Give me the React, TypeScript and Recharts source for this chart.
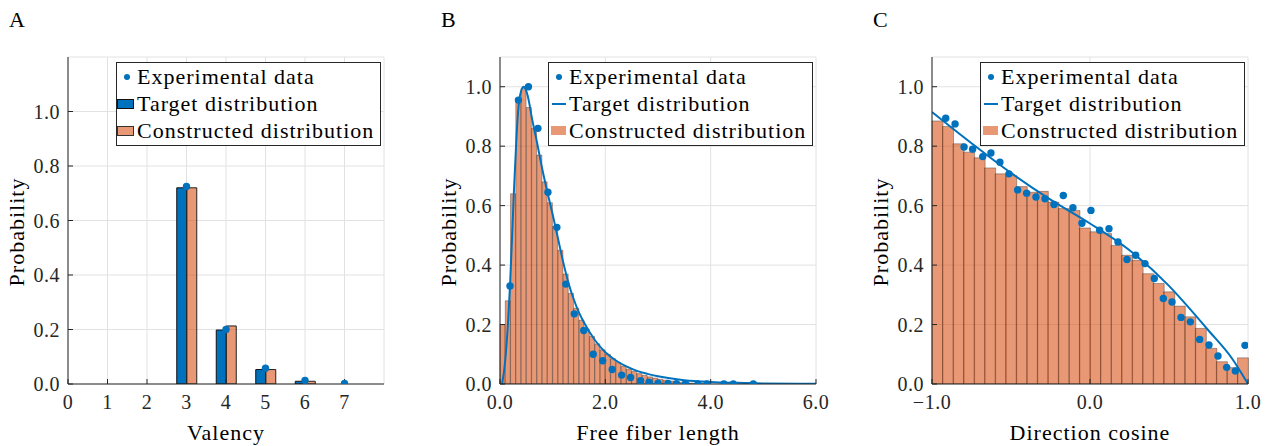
import {
  ComposedChart, Bar, Line, Scatter, XAxis, YAxis, CartesianGrid, Legend,
} from 'recharts'

const SERIF = '"Liberation Serif", "DejaVu Serif", serif'
const BLUE = '#0072BD'
const ORANGE = '#D95319'
const ORANGE_LIGHT = '#E89875'
const INK = '#262626'
const GRID = '#e2e2e2'

// A: valency
const valency = [1, 2, 3, 4, 5, 6, 7]
const valencyTarget = [0, 0, 0.72, 0.198, 0.053, 0.01, 0]
const valencyConstructed = [0, 0, 0.72, 0.213, 0.053, 0.01, 0]
const valencyExpX = [3, 4, 5, 6, 7]
const valencyExpY = [0.725, 0.2, 0.058, 0.013, 0.002]
const valencyTicks = [0, 1, 2, 3, 4, 5, 6, 7]

// B: free fiber length (histogram bins of 0.1)
const lengthBins = [
  0.05, 0.15, 0.25, 0.35, 0.45, 0.55, 0.65, 0.75, 0.85, 0.95,
  1.05, 1.15, 1.25, 1.35, 1.45, 1.55, 1.65, 1.75, 1.85, 1.95,
  2.05, 2.15, 2.25, 2.35, 2.45, 2.55, 2.65, 2.75, 2.85, 2.95,
  3.05, 3.15, 3.25, 3.35, 3.45, 3.55, 3.65, 3.75, 3.85, 3.95,
  4.05, 4.15, 4.25, 4.35, 4.45, 4.55, 4.65, 4.75, 4.85, 4.95,
  5.05, 5.15, 5.25, 5.35, 5.45, 5.55, 5.65, 5.75, 5.85, 5.95,
]
const lengthHist = [
  0.2, 0.28, 0.64, 0.955, 0.995, 0.93, 0.86, 0.77, 0.68, 0.61,
  0.53, 0.45, 0.37, 0.305, 0.255, 0.215, 0.185, 0.16, 0.135, 0.115,
  0.1, 0.085, 0.072, 0.06, 0.05, 0.042, 0.035, 0.029, 0.024, 0.02,
  0.016, 0.013, 0.01, 0.008, 0.006, 0.004, 0.003, 0.002, 0.001, 0,
  0, 0, 0, 0, 0, 0, 0, 0, 0, 0,
  0, 0, 0, 0, 0, 0, 0, 0, 0, 0,
]
const lengthLineX = [
  0.04, 0.1, 0.15, 0.19, 0.23, 0.27, 0.31, 0.35, 0.4, 0.45, 0.5, 0.55, 0.6,
  0.7, 0.8, 0.9, 1.0, 1.1, 1.2, 1.3, 1.4, 1.5, 1.6, 1.8, 2.0, 2.2, 2.4,
  2.6, 2.8, 3.0, 3.5, 4.0, 4.5, 5.0, 6.0,
]
const lengthLineY = [
  0, 0.08, 0.2, 0.33, 0.5, 0.67, 0.82, 0.93, 0.985, 1.0, 0.985, 0.95, 0.9,
  0.815, 0.725, 0.645, 0.57, 0.49, 0.41, 0.34, 0.285, 0.24, 0.205, 0.148, 0.107, 0.079, 0.059,
  0.044, 0.034, 0.026, 0.013, 0.007, 0.004, 0.002, 0.0005,
]
const lengthExpX = [
  0.19, 0.35, 0.54, 0.72, 0.91, 1.08, 1.25, 1.41, 1.59, 1.77, 1.95, 2.13, 2.31,
  2.48, 2.67, 2.83, 3.0, 3.19, 3.35, 3.52, 3.76, 3.93, 4.25, 4.43, 4.81,
]
const lengthExpY = [
  0.33, 0.955, 1.0, 0.86, 0.645, 0.527, 0.336, 0.236, 0.18, 0.1, 0.078, 0.049, 0.03,
  0.022, 0.011, 0.006, 0.003, 0.002, 0.001, 0.001, 0, 0, 0, 0, 0,
]
const lengthTicks = [0, 2, 4, 6]

// C: direction cosine (30 bins)
const cosBins = [
  -0.967, -0.9, -0.833, -0.767, -0.7, -0.633, -0.567, -0.5, -0.433, -0.367,
  -0.3, -0.233, -0.167, -0.1, -0.033, 0.033, 0.1, 0.167, 0.233, 0.3,
  0.367, 0.433, 0.5, 0.567, 0.633, 0.7, 0.767, 0.833, 0.9, 0.967,
]
const cosHist = [
  0.885, 0.866, 0.808, 0.78, 0.761, 0.727, 0.707, 0.701, 0.664, 0.645,
  0.648, 0.612, 0.59, 0.584, 0.525, 0.512, 0.506, 0.466, 0.433, 0.416,
  0.371, 0.338, 0.31, 0.262, 0.226, 0.187, 0.12, 0.075, 0.055, 0.088,
]
const cosLineX = [-1, -0.75, -0.5, -0.25, 0, 0.25, 0.5, 0.6, 0.75, 0.9, 1.0]
const cosLineY = [0.915, 0.81, 0.71, 0.62, 0.54, 0.45, 0.33, 0.272, 0.18, 0.085, 0]
const cosExpX = [
  -0.913, -0.854, -0.797, -0.743, -0.679, -0.627, -0.57, -0.513, -0.458, -0.401,
  -0.342, -0.285, -0.228, -0.169, -0.108, -0.051, 0.006, 0.061, 0.12, 0.177,
  0.234, 0.289, 0.348, 0.407, 0.464, 0.519, 0.576, 0.635, 0.694, 0.753,
  0.81, 0.865, 0.92, 0.981,
]
const cosExpY = [
  0.894, 0.875, 0.797, 0.79, 0.765, 0.777, 0.746, 0.707, 0.653, 0.642,
  0.629, 0.623, 0.604, 0.634, 0.593, 0.541, 0.584, 0.517, 0.522, 0.478,
  0.419, 0.433, 0.405, 0.355, 0.288, 0.276, 0.224, 0.209, 0.15, 0.131,
  0.094, 0.056, 0.044, 0.13,
]
const cosTicks = [-1, 0, 1]

const probTicks = [0, 0.2, 0.4, 0.6, 0.8, 1.0]
const legendNames = ['Experimental data', 'Target distribution', 'Constructed distribution']

// rows for the charts
const valencyRows = valency.map((v, i) => ({ v, t: valencyTarget[i], c: valencyConstructed[i] }))
const valencyExp = valencyExpX.map((v, i) => ({ v, y: valencyExpY[i] }))
const lengthRows = lengthBins.map((c, i) => ({ c, h: lengthHist[i] }))
const lengthLine = lengthLineX.map((x, i) => ({ x, y: lengthLineY[i] }))
const lengthExp = lengthExpX.map((x, i) => ({ x, y: lengthExpY[i] }))
const cosRows = cosBins.map((c, i) => ({ c, h: cosHist[i] }))
const cosLine = cosLineX.map((x, i) => ({ x, y: cosLineY[i] }))
const cosExp = cosExpX.map((x, i) => ({ x, y: cosExpY[i] }))

const W = 400
const H = 446
const MARGIN = { top: 57, right: 16, bottom: 32, left: 0 }
const tick = { fontFamily: SERIF, fontSize: 20, fill: INK, letterSpacing: 0.5 }
const fmt1 = (v: number) => (v < 0 ? '\u2212' : '') + Math.abs(v).toFixed(1)

const dot = (p: any) => <circle cx={p.cx} cy={p.cy} r={3.7} fill={BLUE} />

// box with inward ticks on all four sides, like the original axes
function boxAxes(xKey: string, xDomain: number[], xTicks: number[], xFmt: (v: number) => string, yTop: number) {
  return [
    <XAxis key="xb" xAxisId="x" dataKey={xKey} type="number" domain={xDomain} ticks={xTicks}
      allowDataOverflow interval={0} height={30} tickSize={-5} tickMargin={16}
      tick={tick} tickFormatter={xFmt} stroke={INK} />,
    <XAxis key="xt" xAxisId="top" orientation="top" type="number" domain={xDomain} ticks={xTicks}
      allowDataOverflow interval={0} height={0} tickSize={-5} tick={false} stroke={INK} />,
    <YAxis key="yl" yAxisId="y" type="number" domain={[0, yTop]} ticks={probTicks}
      allowDataOverflow interval={0} width={68} tickSize={-5} tickMargin={13}
      tick={tick} tickFormatter={fmt1} stroke={INK} />,
    <YAxis key="yr" yAxisId="r" orientation="right" type="number" domain={[0, yTop]} ticks={probTicks}
      allowDataOverflow interval={0} width={0} tickSize={-5} tick={false} stroke={INK} />,
  ]
}

function LegendBox({ kind }: { kind: 'bar' | 'line' }) {
  const marks = [
    <span style={{ width: 6, height: 6, borderRadius: 3, background: BLUE, marginLeft: 7 }} />,
    kind === 'bar'
      ? <span style={{ width: 15, height: 8, background: BLUE, border: '1px solid #111', marginLeft: 0 }} />
      : <span style={{ width: 14, height: 2, background: BLUE, marginLeft: 3 }} />,
    kind === 'bar'
      ? <span style={{ width: 15, height: 8, background: ORANGE_LIGHT, border: '1px solid #333' }} />
      : <span style={{ width: 15, height: 9, background: ORANGE_LIGHT, marginLeft: 2 }} />,
  ]
  return (
    <div style={{
      boxSizing: 'border-box', width: 265, height: 84, border: `1px solid ${INK}`, background: '#fff',
      fontFamily: SERIF, fontSize: 22, letterSpacing: 1, color: '#000', paddingTop: 0,
    }}>
      {legendNames.map((name, i) => (
        <div key={name} style={{ display: 'flex', alignItems: 'center', height: 27 }}>
          <span style={{ width: 20, flex: 'none', display: 'flex', alignItems: 'center' }}>{marks[i]}</span>
          <span style={{ whiteSpace: 'nowrap', lineHeight: '27px' }}>{name}</span>
        </div>
      ))}
    </div>
  )
}

function legend(kind: 'bar' | 'line') {
  return (
    <Legend layout="vertical" align="center" verticalAlign="middle"
      content={() => <LegendBox kind={kind} />}
      wrapperStyle={{ left: 116, top: 62, width: 265, height: 84 }} />
  )
}

function Panel({ left, letter, xTitle, children }: { left: number, letter: string, xTitle: string, children: any }) {
  return (
    <div style={{ position: 'absolute', left, top: 0, width: W, height: H }}>
      {children}
      <div style={{ position: 'absolute', left: 9, top: 7, fontSize: 22, lineHeight: '26px' }}>{letter}</div>
      <div style={{ position: 'absolute', left: 68, width: 316, top: 420, textAlign: 'center', fontSize: 22, lineHeight: '26px', letterSpacing: 1 }}>
        {xTitle}
      </div>
      <div style={{
        position: 'absolute', left: 17 - 100, top: 232 - 13, width: 200, height: 26, textAlign: 'center',
        fontSize: 22, lineHeight: '26px', letterSpacing: 1, transform: 'rotate(-90deg)',
      }}>
        Probability
      </div>
    </div>
  )
}

export default function App() {
  return (
    <div style={{ position: 'absolute', left: 0, top: 0, width: 1274, height: 446, background: '#fff', fontFamily: SERIF, color: '#000' }}>
      <Panel left={0} letter="A" xTitle="Valency">
        <ComposedChart width={W} height={H} data={valencyRows} margin={MARGIN} barGap={0}>
          <CartesianGrid xAxisId="x" yAxisId="y" stroke={GRID} />
          {boxAxes('v', [0, 8], valencyTicks, (v) => String(v), 1.2)}
          <Scatter data={valencyExp} dataKey="y" xAxisId="x" yAxisId="y" shape={dot} isAnimationActive={false} />
          <Bar dataKey="t" xAxisId="x" yAxisId="y" barSize={10} fill={BLUE} stroke="#111" strokeWidth={1} isAnimationActive={false} />
          <Bar dataKey="c" xAxisId="x" yAxisId="y" barSize={10} fill={ORANGE} fillOpacity={0.6} stroke="#222" strokeWidth={1} isAnimationActive={false} />
          {legend('bar')}
        </ComposedChart>
      </Panel>

      <Panel left={432} letter="B" xTitle="Free fiber length">
        <ComposedChart width={W} height={H} data={lengthRows} margin={MARGIN} barGap={0} barCategoryGap={0}>
          <CartesianGrid xAxisId="x" yAxisId="y" stroke={GRID} />
          <XAxis xAxisId="bins" dataKey="c" type="category" orientation="top" height={0} hide />
          {boxAxes('x', [0, 6], lengthTicks, fmt1, 1.1)}
          <Scatter data={lengthExp} dataKey="y" xAxisId="x" yAxisId="y" shape={dot} isAnimationActive={false} />
          <Line data={lengthLine} dataKey="y" xAxisId="x" yAxisId="y" type="monotone" stroke={BLUE} strokeWidth={2} dot={false} isAnimationActive={false} />
          <Bar dataKey="h" xAxisId="bins" yAxisId="y" fill={ORANGE} fillOpacity={0.6} stroke="#000" strokeOpacity={0.3} strokeWidth={1} isAnimationActive={false} />
          {legend('line')}
        </ComposedChart>
      </Panel>

      <Panel left={864} letter="C" xTitle="Direction cosine">
        <ComposedChart width={W} height={H} data={cosRows} margin={MARGIN} barGap={0} barCategoryGap={0}>
          <CartesianGrid xAxisId="x" yAxisId="y" stroke={GRID} />
          <XAxis xAxisId="bins" dataKey="c" type="category" orientation="top" height={0} hide />
          {boxAxes('x', [-1, 1], cosTicks, fmt1, 1.1)}
          <Scatter data={cosExp} dataKey="y" xAxisId="x" yAxisId="y" shape={dot} isAnimationActive={false} />
          <Line data={cosLine} dataKey="y" xAxisId="x" yAxisId="y" type="monotone" stroke={BLUE} strokeWidth={2} dot={false} isAnimationActive={false} />
          <Bar dataKey="h" xAxisId="bins" yAxisId="y" fill={ORANGE} fillOpacity={0.6} stroke="#000" strokeOpacity={0.3} strokeWidth={1} isAnimationActive={false} />
          {legend('line')}
        </ComposedChart>
      </Panel>
    </div>
  )
}
